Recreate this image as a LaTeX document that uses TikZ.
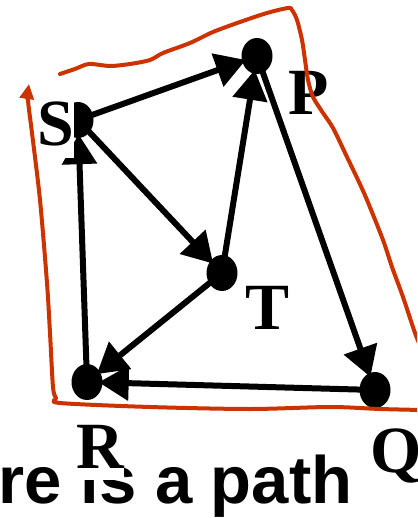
\documentclass[tikz,border=0pt]{standalone}
\usepackage{fontspec}
\usetikzlibrary{arrows.meta,shapes.geometric}
\newfontfamily\lblfont{Liberation Serif}
\newfontfamily\txtfont{Liberation Sans}
\definecolor{penred}{RGB}{204,51,0}
\begin{document}
\begin{tikzpicture}[x=1pt,y=-1pt,
  dot/.style={ellipse, fill=black, minimum width=31pt, minimum height=36pt, inner sep=0pt},
  edge/.style={line width=6pt, -{Triangle[length=30pt,width=34pt]}, shorten >=-4pt},
  lbl/.style={font=\lblfont\bfseries\fontsize{66}{66}\selectfont, inner sep=0pt},
  pen/.style={draw=penred, line width=4pt, line cap=round, line join=round}]
\useasboundingbox (0,0) rectangle (417,518);
\clip (0,0) rectangle (417,518);
% dots
\node[dot] (S) at (78,120) {};
\node[dot] (P) at (257,56) {};
\node[dot] (T) at (222,273) {};
\node[dot] (R) at (87,382) {};
\node[dot] (Q) at (375,390) {};
% edges
\draw[edge] (S.center) -- (P);
\draw[edge] (T.center) -- (P);
\draw[edge] (P.center) -- (Q);
\draw[edge] (S.center) -- (T);
\draw[edge] (T.center) -- (R);
\draw[edge] (Q.center) -- (R);
\draw[edge] (R.center) -- (S);
% caption text
\node[font=\txtfont\bfseries\fontsize{67}{67}\selectfont, anchor=base west, inner sep=0pt] (caption) at (-1.5,503) {re is a path};
% labels
\node[lbl, anchor=base west] (Plbl) at (288,115) {P};
\node[lbl, anchor=base west] (Tlbl) at (245,329) {T};
\node[lbl, anchor=base west] (Qlbl) at (370,472) {Q};
\node[lbl, fill=white, minimum width=36pt, text height=46pt, text depth=12pt] (Slbl) at (56,129) {S};
\node[lbl, fill=white, minimum width=46pt, text height=45pt, text depth=12pt] (Rlbl) at (100.5,451.5) {R};
% red pen outline
\draw[pen] plot[smooth, tension=0.5] coordinates {(60,74) (75,69) (89,64) (110,66) (130,64) (150,60) (163,53) (190,43) (213,32) (240,22) (267,13) (288,8) (292,10) (297,20) (302,40) (305,60) (308,80) (313,97) (323,113) (333,128) (347,157) (358,180) (367,200) (383,240) (392,267) (403,297) (415,333) (422,350)};
\draw[pen, -{Triangle[length=15pt,width=14pt]}] plot[smooth, tension=0.5] coordinates {(422,410) (380,409) (330,407) (250,409) (150,407) (60,403) (56,398) (53,387) (50,333) (47,283) (40,200) (32,133) (28,100) (29,84)};
\end{tikzpicture}
\end{document}
